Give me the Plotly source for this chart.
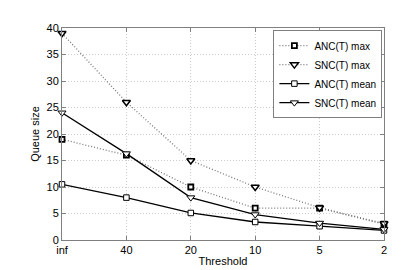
import plotly.graph_objects as go

thresholds = ["inf", "40", "20", "10", "5", "2"]
anc_max = [19, 16, 10, 6, 6, 3]
snc_max = [39, 26, 15, 10, 6.1, 3.1]
anc_mean = [10.5, 8, 5.1, 3.4, 2.6, 1.8]
snc_mean = [24, 16.3, 8, 4.8, 3.2, 2.0]
y_ticks = [0, 5, 10, 15, 20, 25, 30, 35, 40]

xpos = list(range(len(thresholds)))

fig = go.Figure()

def add(name, y, marker, dash, color, lwidth, msize, mwidth):
    fig.add_trace(go.Scatter(
        x=xpos, y=y, name=name, mode="lines+markers",
        line=dict(color=color, width=lwidth, dash=dash),
        marker=dict(symbol=marker, size=msize, color="white",
                    line=dict(color="black", width=mwidth)),
        cliponaxis=False,
    ))

add("ANC(T) max", anc_max, "square", "1px,2px", "#777777", 1.3, 5, 1.8)
add("SNC(T) max", snc_max, "triangle-down", "1px,2px", "#777777", 1.3, 7, 1.5)
add("ANC(T) mean", anc_mean, "square", "solid", "black", 1.3, 5.5, 1)
add("SNC(T) mean", snc_mean, "triangle-down", "solid", "black", 1.3, 7, 1)

axis_common = dict(
    showline=True, linecolor="#808080", linewidth=1, mirror="ticks",
    ticks="inside", ticklen=4, tickcolor="#808080",
    showgrid=True, gridcolor="#cccccc", griddash="1px,2px", gridwidth=1,
    zeroline=False,
    tickfont=dict(family="Liberation Sans, Arial, sans-serif", size=11, color="black"),
    title_font=dict(family="Liberation Sans, Arial, sans-serif", size=11, color="black"),
)

fig.update_xaxes(
    range=[0, 5], tickmode="array", tickvals=xpos, ticktext=thresholds,
    title_text="Threshold", title_standoff=2, **axis_common,
)
fig.update_yaxes(
    range=[0, 40], tickmode="array", tickvals=y_ticks,
    title_text="Queue size", title_standoff=4, **axis_common,
)

fig.update_layout(
    width=415, height=270,
    margin=dict(l=54, r=39, t=20, b=30),
    paper_bgcolor="white", plot_bgcolor="white",
    font=dict(family="Liberation Sans, Arial, sans-serif", size=11, color="black"),
    showlegend=True,
    legend=dict(
        x=0.995, y=0.99, xanchor="right", yanchor="top",
        bgcolor="white", bordercolor="#808080", borderwidth=1,
        font=dict(size=10), itemwidth=30, tracegroupgap=0,
    ),
)

fig.write_html("out.html")
